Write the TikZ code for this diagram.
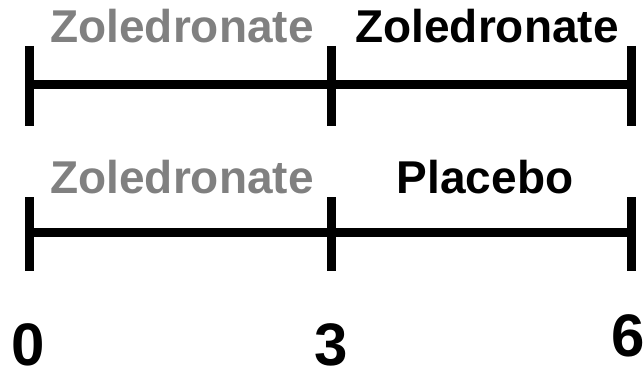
\documentclass[tikz,border=0pt]{standalone}
\usepackage{fontspec}
\setmainfont{Liberation Sans}
\begin{document}
\begin{tikzpicture}[x=1pt,y=1pt,
  bar/.style={line width=9pt,black,line cap=butt},
  phase/.style={inner sep=0pt,anchor=base,font=\fontsize{46}{46}\selectfont\bfseries},
  first/.style={phase,text=gray},
  second/.style={phase,text=black},
  tickmark/.style={inner sep=0pt,anchor=base,font=\fontsize{60}{60}\selectfont\bfseries}]
\useasboundingbox (0,0) rectangle (644,370);
% upper arm: zoledronate for six years
\coordinate (a0) at (29,285);
\coordinate (a3) at (331,285);
\coordinate (a6) at (631,285);
\draw[bar] (a0) -- (a6);
\foreach \p in {a0,a3,a6}
  \draw[bar] ([yshift=39pt]\p) -- ([yshift=-41pt]\p);
\node[first]  (za1) at (182,327) {Zoledronate};
\node[second] (za2) at (487,327) {Zoledronate};
% lower arm: zoledronate then placebo
\coordinate (b0) at (29,138);
\coordinate (b3) at (331,138);
\coordinate (b6) at (631,138);
\draw[bar] (b0) -- (b6);
\foreach \p in {b0,b3,b6}
  \draw[bar] ([yshift=35pt]\p) -- ([yshift=-39pt]\p);
\node[first]  (zb1) at (182,177) {Zoledronate};
\node[second] (pb2) at (485,177) {Placebo};
% time axis labels (years)
\node[tickmark] (t0) at (28,4.5) {0};
\node[tickmark] (t3) at (331,4.5) {3};
\node[tickmark] (t6) at (628,14) {6};
\end{tikzpicture}
\end{document}
